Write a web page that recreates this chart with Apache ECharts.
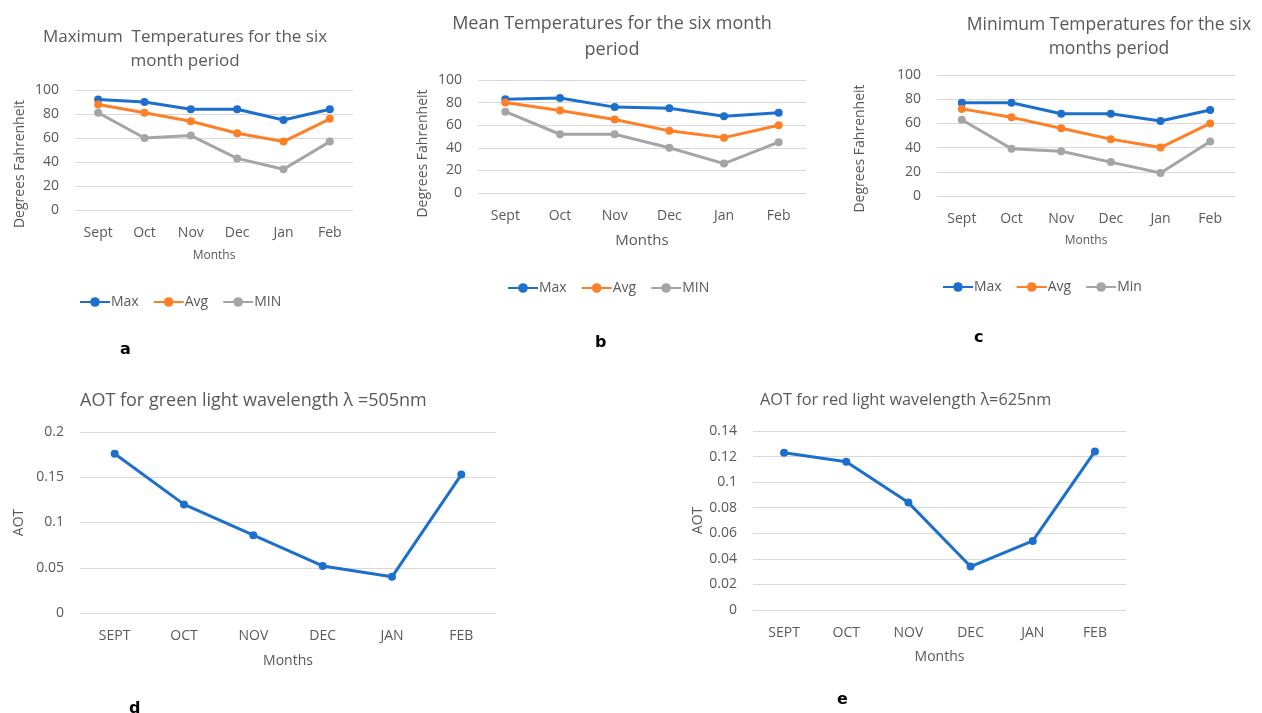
<!DOCTYPE html>
<html>
<head>
<meta charset="utf-8">
<script src="https://cdn.jsdelivr.net/npm/echarts@6/dist/echarts.min.js"></script>
<style>html,body{margin:0;padding:0;background:#fff;}#c{width:1262px;height:713px;}</style>
</head>
<body>
<div id="c"></div>
<script>
// ---- data ----
const months = ['Sept', 'Oct', 'Nov', 'Dec', 'Jan', 'Feb'];
const monthsUpper = ['SEPT', 'OCT', 'NOV', 'DEC', 'JAN', 'FEB'];
const tempTicks = [0, 20, 40, 60, 80, 100];

// a: Maximum temperatures
const aMax = [92, 90, 84, 84, 75, 84];
const aAvg = [88, 81, 74, 64, 57, 76];
const aMin = [81, 60, 62, 43, 34, 57];
// b: Mean temperatures
const bMax = [83, 84, 76, 75, 68, 71];
const bAvg = [80, 73, 65, 55, 49, 60];
const bMin = [72, 52, 52, 40, 26, 45];
// c: Minimum temperatures
const cMax = [77, 77, 68, 68, 62, 71];
const cAvg = [72, 65, 56, 47, 40, 60];
const cMin = [63, 39, 37, 28, 19, 45];
// d: AOT green 505nm
const aotGreen = [0.176, 0.12, 0.086, 0.052, 0.04, 0.153];
// e: AOT red 625nm
const aotRed = [0.123, 0.116, 0.084, 0.034, 0.054, 0.124];

const BLUE = '#1c6fcc', ORANGE = '#ff7f27', GRAY = '#a5a5a5';
const TXT = '#595959', GRID = '#d9d9d9';
const FONT = '"Open Sans", "Noto Sans", sans-serif';

const chart = echarts.init(document.getElementById('c'));

const grids = [
  {left: 75, top: 90, width: 278, height: 120},
  {left: 478, top: 80, width: 328, height: 113},
  {left: 937, top: 75, width: 298, height: 121},
  {left: 80, top: 432, width: 416, height: 181},
  {left: 753, top: 431, width: 373, height: 179}
];

function xAx(i, cats, fs, nfs, gap) {
  return {
    type: 'category', gridIndex: i, data: cats, boundaryGap: true,
    axisLine: {show: false}, axisTick: {show: false},
    axisLabel: {color: TXT, fontSize: fs, fontFamily: FONT, margin: 16},
    name: 'Months', nameLocation: 'middle', nameGap: gap,
    nameTextStyle: {color: TXT, fontSize: nfs, fontFamily: FONT}
  };
}
function yAx(i, max, interval, name, gap, pad, fs) {
  return {
    type: 'value', gridIndex: i, min: 0, max: max, interval: interval,
    axisLine: {show: false}, axisTick: {show: false},
    splitLine: {lineStyle: {color: GRID, width: 1}},
    axisLabel: {color: TXT, fontSize: fs, fontFamily: FONT, margin: 16},
    name: name, nameLocation: 'middle', nameGap: gap,
    nameTextStyle: {color: TXT, fontSize: 14, fontFamily: FONT, padding: pad}
  };
}
function line(name, data, color, i, w) {
  return {
    name: name, type: 'line', data: data, xAxisIndex: i, yAxisIndex: i,
    symbol: 'circle', symbolSize: 8, color: color,
    lineStyle: {color: color, width: w || 3},
    itemStyle: {color: color}, animation: false
  };
}
function legend(left, top, names) {
  return {
    left: left, top: top, data: names, itemWidth: 30, itemHeight: 12, itemGap: 14,
    textStyle: {color: TXT, fontSize: 14, fontFamily: FONT, padding: [0, 0, 0, -4]},
    selectedMode: false
  };
}
function title(text, left, top, fs, lh, align) {
  return {
    text: text, left: left, top: top, textAlign: align || 'center',
    textStyle: {color: TXT, fontSize: fs, fontWeight: 'normal', fontFamily: FONT, lineHeight: lh}
  };
}
function tag(text, left, top) {
  return {
    text: text, left: left, top: top,
    textStyle: {color: '#000', fontSize: 16, fontWeight: 'bold', fontFamily: '"DejaVu Sans", sans-serif'}
  };
}

chart.setOption({
  backgroundColor: '#fff',
  animation: false,
  title: [
    title('Maximum  Temperatures for the six\nmonth period', 180, 20, 17, 24),
    title('Mean Temperatures for the six month\nperiod', 607, 6, 18, 26),
    title('Minimum Temperatures for the six\nmonths period', 1104, 8, 17.5, 24),
    title('AOT for green light wavelength λ =505nm', 75, 385, 18, 22, 'left'),
    title('AOT for red light wavelength λ=625nm', 755, 384, 16.3, 22, 'left'),
    tag('a', 115, 337), tag('b', 590, 330), tag('c', 969, 325), tag('d', 124, 696), tag('e', 832, 687)
  ],
  legend: [
    legend(74, 290, ['Max', 'Avg', 'MIN']),
    legend(502, 276, ['Max', 'Avg', 'MIN']),
    legend(937, 275, ['Max', 'Avg', 'Min'])
  ],
  grid: grids,
  xAxis: [
    xAx(0, months, 14, 12, 40),
    xAx(1, months, 14, 15, 40),
    xAx(2, months, 14, 12, 39),
    xAx(3, monthsUpper, 14, 14, 41),
    xAx(4, monthsUpper, 14, 14, 40)
  ],
  yAxis: [
    yAx(0, 100, 20, 'Degrees Fahrenheit', 48, [0, 28, 0, 0], 14),
    yAx(1, 100, 20, 'Degrees Fahrenheit', 48, [0, 34, 0, 0], 14),
    yAx(2, 100, 20, 'Degrees Fahrenheit', 70, [0, 26, 0, 0], 14),
    yAx(3, 0.2, 0.05, 'AOT', 54, 0, 14),
    yAx(4, 0.14, 0.02, 'AOT', 48, 0, 14)
  ],
  series: [
    line('Max', aMax, BLUE, 0), line('Avg', aAvg, ORANGE, 0), line('MIN', aMin, GRAY, 0),
    line('Max', bMax, BLUE, 1), line('Avg', bAvg, ORANGE, 1), line('MIN', bMin, GRAY, 1),
    line('Max', cMax, BLUE, 2), line('Avg', cAvg, ORANGE, 2), line('Min', cMin, GRAY, 2),
    line('AOT', aotGreen, BLUE, 3), line('AOT red', aotRed, BLUE, 4)
  ]
});
</script>
</body>
</html>
